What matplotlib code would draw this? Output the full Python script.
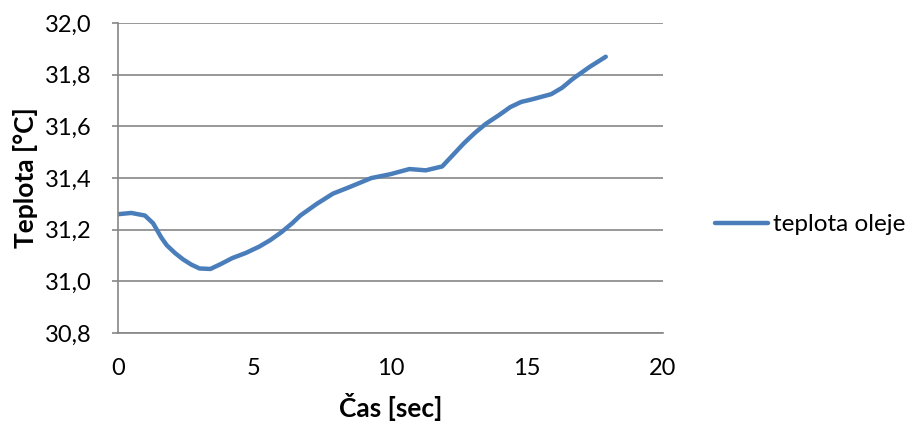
import matplotlib
matplotlib.use("Agg")
import matplotlib.pyplot as plt
from matplotlib.ticker import FuncFormatter

# values
cas = [0.0, 0.5, 1.0, 1.3, 1.6, 1.8, 2.1, 2.4, 2.7, 3.0, 3.4, 3.8, 4.2, 4.7,
       5.2, 5.6, 6.0, 6.4, 6.7, 7.3, 7.9, 8.5, 9.3, 10.0, 10.7, 11.3, 11.9,
       12.3, 12.7, 13.1, 13.5, 14.0, 14.4, 14.8, 15.2, 15.9, 16.3, 16.7,
       17.3, 17.9]
teplota = [31.26, 31.265, 31.255, 31.225, 31.17, 31.14, 31.11, 31.085,
           31.065, 31.05, 31.048, 31.068, 31.09, 31.11, 31.135, 31.16, 31.19,
           31.225, 31.255, 31.30, 31.34, 31.365, 31.40, 31.415, 31.435, 31.43,
           31.445, 31.49, 31.535, 31.575, 31.61, 31.645, 31.675, 31.695,
           31.705, 31.725, 31.75, 31.785, 31.83, 31.87]
x_ticks = [0, 5, 10, 15, 20]
y_ticks = [30.8, 31.0, 31.2, 31.4, 31.6, 31.8, 32.0]

plt.rcParams['font.family'] = ['Lato', 'DejaVu Sans']

fig = plt.figure(figsize=(9.12, 4.21), dpi=100)
ax = fig.add_axes([0.129, 0.209, 0.598, 0.736])

line, = ax.plot(cas, teplota, color="#4A7EBB", lw=3.2, solid_capstyle="round",
                solid_joinstyle="round", label="teplota oleje")

ax.set_xlim(0, 20)
ax.set_ylim(30.8, 32.0)
ax.set_xticks(x_ticks)
ax.set_yticks(y_ticks)
ax.yaxis.set_major_formatter(FuncFormatter(lambda v, p: f"{v:.1f}".replace(".", ",")))
ax.grid(axis="y", color="#868686", lw=1.2)
ax.set_axisbelow(True)

for s in ["top", "right"]:
    ax.spines[s].set_visible(False)
for s in ["left", "bottom"]:
    ax.spines[s].set_color("#868686")
    ax.spines[s].set_linewidth(1.2)

ax.tick_params(axis="x", length=0, pad=18, labelsize=17, colors="#000000")
ax.tick_params(axis="y", length=4, width=1.2, color="#868686", pad=15,
               labelsize=17)

ax.set_xlabel("Čas [sec]", fontsize=19, fontweight="bold", labelpad=10)
ax.set_ylabel("Teplota [°C]", fontsize=19, fontweight="bold", labelpad=5)

fig.legend(handles=[line], loc="center left", bbox_to_anchor=(0.784, 0.466),
           frameon=False, fontsize=17.5, handlelength=2.2, handletextpad=0.2,
           borderpad=0, borderaxespad=0)

fig.savefig("out.png", dpi=100)
